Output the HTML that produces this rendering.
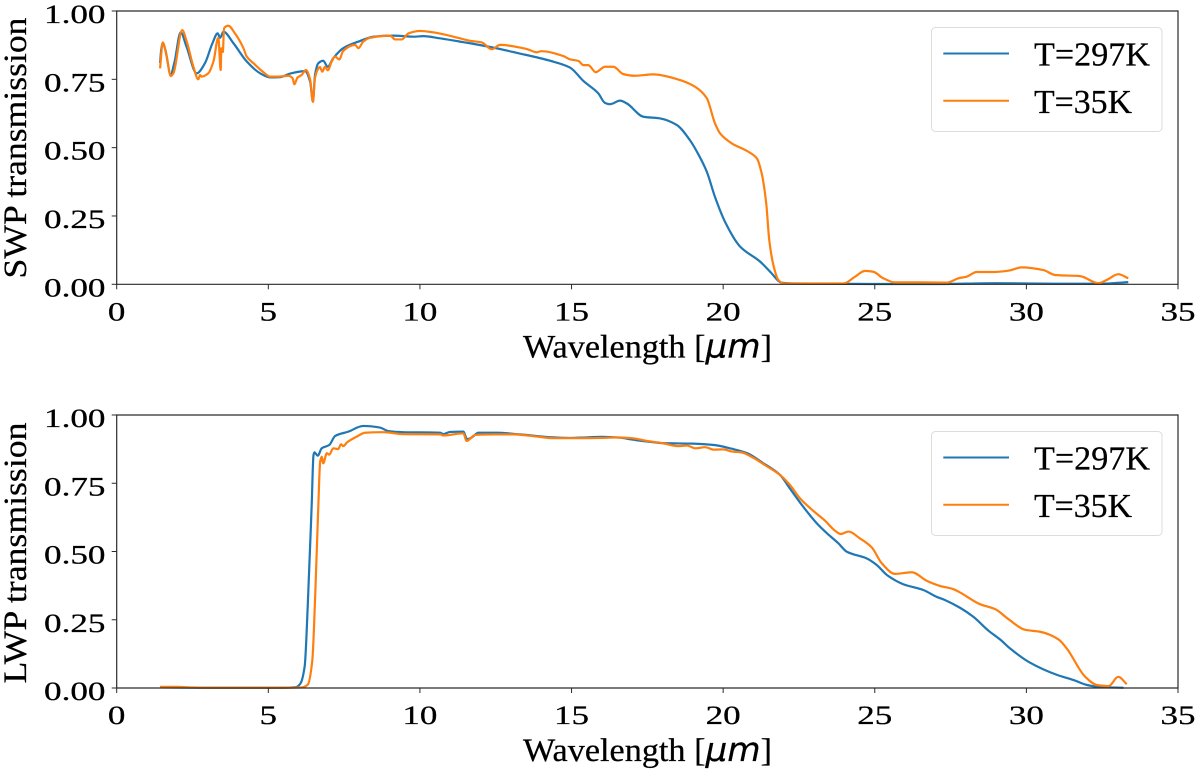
<!DOCTYPE html>
<html lang="en">
<head>
<meta charset="utf-8">
<title>SWP and LWP transmission</title>
<style>
html,body{margin:0;padding:0;background:#fff;}
svg{display:block;}
text{font-family:"Liberation Serif",serif;fill:#000;stroke:#000;stroke-width:0.25px;}
</style>
</head>
<body>
<svg id="chart" xmlns="http://www.w3.org/2000/svg" width="1200" height="772" viewBox="0 0 1200 772"></svg>
<script>
const xTicks = [0, 5, 10, 15, 20, 25, 30, 35];
const yTicks = [0, 0.25, 0.5, 0.75, 1];
const yTickLabels = ["0.00", "0.25", "0.50", "0.75", "1.00"];
const legendLabels = ["T=297K", "T=35K"];

const swpWave297 = [1.43,1.47,1.52,1.6,1.78,1.9,2.11,2.3,2.64,2.91,3.15,3.33,3.41,3.52,3.85,4.29,4.73,5.06,5.39,5.72,6.21,6.38,6.47,6.54,6.65,6.81,6.96,7.14,7.47,8.02,8.46,9.12,9.78,10.11,10.66,11.32,11.65,12.42,13.19,14.29,14.95,15.39,15.88,16.1,16.27,16.6,16.82,17.37,17.92,18.47,18.9,19.18,19.46,19.73,20.06,20.56,21.22,21.55,21.93,22.3,25,27,29,31,32.5,33.36];
const swp297 = [0.81,0.86,0.882,0.86,0.768,0.81,0.922,0.87,0.772,0.809,0.88,0.918,0.902,0.924,0.882,0.815,0.772,0.757,0.758,0.771,0.78,0.741,0.668,0.766,0.809,0.818,0.796,0.827,0.864,0.89,0.906,0.91,0.906,0.908,0.9,0.888,0.882,0.866,0.847,0.818,0.793,0.744,0.699,0.664,0.659,0.672,0.662,0.613,0.607,0.583,0.528,0.476,0.412,0.32,0.229,0.138,0.083,0.046,0.006,0.003,0.001,0.001,0.004,0.002,0.002,0.008];

const swpWave35 = [1.43,1.52,1.65,1.78,1.87,2.16,2.31,2.53,2.69,2.75,2.8,3.02,3.19,3.35,3.43,3.45,3.5,3.54,3.68,3.9,4.18,4.29,4.51,4.84,5.06,5.33,5.66,5.8,5.86,5.96,6.1,6.24,6.38,6.47,6.54,6.62,6.7,6.78,6.87,6.96,7.09,7.2,7.34,7.47,7.86,7.97,8.13,8.36,9.02,9.18,9.4,9.62,10,10.44,11.32,11.65,12.04,12.37,12.64,13.52,13.85,14.0,14.73,14.95,15.23,15.39,15.55,15.8,16.1,16.38,16.71,17.09,17.7,18.47,19.07,19.46,19.73,19.9,20.28,20.83,21.11,21.27,21.42,21.52,21.67,21.82,21.98,22.1,23.97,24.35,24.68,24.95,25.28,25.67,26.6,27.37,27.76,28.03,28.36,28.91,29.41,29.85,30.56,30.95,31.77,32.37,32.65,33.03,33.36];
const swp35 = [0.79,0.885,0.833,0.762,0.772,0.93,0.888,0.796,0.75,0.766,0.76,0.772,0.815,0.902,0.784,0.864,0.85,0.937,0.946,0.918,0.864,0.833,0.809,0.776,0.76,0.76,0.763,0.754,0.732,0.756,0.766,0.784,0.748,0.668,0.755,0.784,0.795,0.778,0.796,0.783,0.815,0.833,0.823,0.854,0.876,0.864,0.888,0.902,0.91,0.896,0.896,0.918,0.927,0.922,0.9,0.891,0.885,0.86,0.876,0.861,0.849,0.853,0.835,0.823,0.817,0.802,0.802,0.776,0.796,0.796,0.769,0.763,0.768,0.751,0.723,0.681,0.589,0.552,0.516,0.485,0.461,0.406,0.296,0.162,0.064,0.016,0.004,0.003,0.003,0.028,0.049,0.046,0.022,0.007,0.007,0.006,0.022,0.028,0.045,0.045,0.05,0.062,0.052,0.034,0.03,0.004,0.016,0.037,0.022];

const lwpWave297 = [1.43,3,5.5,5.9,6.05,6.2,6.3,6.43,6.49,6.52,6.63,6.76,7.01,7.2,7.64,8.13,8.68,8.96,9.45,10.67,10.77,10.99,11.43,11.56,11.7,11.93,12.53,13.3,14.4,14.95,15.28,16,16.6,17,17.5,18,19,19.7,20.3,20.8,21.3,21.88,22.2,22.64,23.09,23.42,23.8,24.08,24.73,25.06,25.4,25.94,26.6,27.04,27.32,27.81,28.25,28.75,29.13,29.46,30.07,31.01,31.56,32,32.44,33.2];
const lwp297 = [0.002,0.001,0.001,0.003,0.015,0.08,0.3,0.67,0.853,0.863,0.851,0.878,0.89,0.923,0.939,0.96,0.954,0.941,0.937,0.935,0.93,0.938,0.939,0.911,0.917,0.935,0.935,0.929,0.918,0.916,0.917,0.92,0.917,0.91,0.903,0.897,0.895,0.89,0.876,0.86,0.825,0.78,0.731,0.664,0.603,0.567,0.53,0.499,0.475,0.451,0.414,0.38,0.359,0.334,0.322,0.294,0.261,0.21,0.178,0.145,0.096,0.048,0.029,0.011,0.003,0.001];

const lwpWave35 = [1.43,2,2.5,3,5.5,6.1,6.3,6.45,6.55,6.65,6.71,6.76,6.81,6.93,7.01,7.14,7.3,7.4,7.47,7.6,7.92,8.19,8.79,9.45,10.67,10.77,11.43,11.54,11.82,12.5,13.08,13.85,14.4,15.28,16,16.5,17,17.5,18,18.5,18.8,19.1,19.4,19.7,20,20.3,20.6,21,21.4,21.88,22.2,22.53,22.97,23.36,23.69,23.88,24.13,24.51,24.9,25.23,25.67,26.22,26.71,27.15,27.59,27.81,28.47,28.97,29.41,29.96,30.45,31.06,31.33,31.94,32.32,32.71,33.03,33.31];
const lwp35 = [0.004,0.004,0.002,0.001,0.001,0.002,0.012,0.1,0.35,0.67,0.829,0.847,0.823,0.86,0.855,0.878,0.875,0.893,0.886,0.9,0.921,0.935,0.937,0.93,0.929,0.925,0.933,0.905,0.927,0.929,0.929,0.921,0.915,0.915,0.916,0.918,0.915,0.905,0.897,0.886,0.888,0.878,0.882,0.873,0.874,0.866,0.863,0.843,0.815,0.78,0.744,0.695,0.649,0.613,0.576,0.564,0.573,0.548,0.515,0.457,0.418,0.424,0.393,0.374,0.362,0.35,0.307,0.289,0.252,0.213,0.206,0.178,0.145,0.041,0.011,0.007,0.041,0.014];

const NS = "http://www.w3.org/2000/svg";
const svg = document.getElementById("chart");
const LEFT = 116.7, RIGHT = 1178, XMAX = 35;
const COLOR_297 = "#1f77b4", COLOR_35 = "#ff7f0e", AXIS = "#2a2a2a";
const FONT = 26;

function xScale(v) { return LEFT + (v / XMAX) * (RIGHT - LEFT); }

function labelWidth(s) {
  let w = 0;
  for (const c of s) w += (c === ".") ? 9 : 17.5;
  return w;
}

function addLine(parent, x1, y1, x2, y2, stroke, width) {
  const l = document.createElementNS(NS, "line");
  l.setAttribute("x1", x1);
  l.setAttribute("y1", y1);
  l.setAttribute("x2", x2);
  l.setAttribute("y2", y2);
  l.setAttribute("stroke", stroke);
  l.setAttribute("stroke-width", width);
  parent.appendChild(l);
  return l;
}

function addText(parent, str, x, y, anchor, len) {
  const t = document.createElementNS(NS, "text");
  t.setAttribute("x", x);
  t.setAttribute("y", y);
  t.setAttribute("font-size", FONT);
  t.setAttribute("text-anchor", anchor);
  t.setAttribute("textLength", len);
  t.setAttribute("lengthAdjust", "spacingAndGlyphs");
  t.textContent = str;
  parent.appendChild(t);
  return t;
}

function addGroup(parent) {
  const g = document.createElementNS(NS, "g");
  parent.appendChild(g);
  return g;
}

/* Monotone cubic path through the data points: smooth, no overshoot. */
function monotonePath(px, py) {
  const n = px.length;
  const d = [];
  for (let i = 0; i < n - 1; i++) d.push((py[i + 1] - py[i]) / (px[i + 1] - px[i]));
  const m = [d[0]];
  for (let i = 1; i < n - 1; i++) {
    if (d[i - 1] * d[i] <= 0) {
      m.push(0);
    } else {
      const h0 = px[i] - px[i - 1], h1 = px[i + 1] - px[i];
      const w0 = 2 * h1 + h0, w1 = h1 + 2 * h0;
      m.push((w0 + w1) / (w0 / d[i - 1] + w1 / d[i]));
    }
  }
  m.push(d[n - 2]);
  let out = "M" + px[0].toFixed(2) + " " + py[0].toFixed(2);
  for (let i = 0; i < n - 1; i++) {
    const h = (px[i + 1] - px[i]) / 3;
    out += "C" + (px[i] + h).toFixed(2) + " " + (py[i] + m[i] * h).toFixed(2) + " " +
      (px[i + 1] - h).toFixed(2) + " " + (py[i + 1] - m[i + 1] * h).toFixed(2) + " " +
      px[i + 1].toFixed(2) + " " + py[i + 1].toFixed(2);
  }
  return out;
}

function drawSeries(parent, wave, values, yScale, color) {
  const p = document.createElementNS(NS, "path");
  p.setAttribute("d", monotonePath(wave.map(xScale), values.map(yScale)));
  p.setAttribute("fill", "none");
  p.setAttribute("stroke", color);
  p.setAttribute("stroke-width", "2.2");
  p.setAttribute("stroke-linejoin", "round");
  parent.appendChild(p);
  return p;
}

function drawPanel(prefix, yLabel, top, bottom, wave297, v297, wave35, v35, legendTop, yLabelCenter) {
  const yScale = v => bottom - v * (bottom - top);
  const panel = addGroup(svg);
  
  

  const s297 = drawSeries(panel, wave297, v297, yScale, COLOR_297);
  
  
  const s35 = drawSeries(panel, wave35, v35, yScale, COLOR_35);
  
  

  const spines = addGroup(panel);
  
  
  addLine(spines, LEFT, top, RIGHT, top, AXIS, 1.2);
  addLine(spines, LEFT, bottom, RIGHT, bottom, AXIS, 1.2);
  addLine(spines, LEFT, top - 0.6, LEFT, bottom + 0.6, AXIS, 1.2);
  addLine(spines, RIGHT, top - 0.6, RIGHT, bottom + 0.6, AXIS, 1.2);

  const xAxis = addGroup(panel);
  
  
  xTicks.forEach(v => {
    addLine(xAxis, xScale(v), bottom, xScale(v), bottom + 5, AXIS, 1);
    const s = String(v);
    const label = addText(xAxis, s, xScale(v), bottom + 36, "middle", labelWidth(s));
    
    
  });

  const yAxis = addGroup(panel);
  
  
  yTicks.forEach((v, i) => {
    addLine(yAxis, LEFT - 5, yScale(v), LEFT, yScale(v), AXIS, 1);
    const s = yTickLabels[i];
    const label = addText(yAxis, s, 105.5, yScale(v) + 12, "end", labelWidth(s));
    
    
  });

  const xTitle = addText(panel, "", 647.5, bottom + 73, "middle", 249);
  
  
  xTitle.setAttribute("font-size", "33");
  const a = document.createElementNS(NS, "tspan");
  a.textContent = "Wavelength [";
  xTitle.appendChild(a);
  const b = document.createElementNS(NS, "tspan");
  b.setAttribute("font-style", "italic");
  b.setAttribute("style", 'font-family:"DejaVu Sans",sans-serif');
  b.textContent = "\u03BCm";
  xTitle.appendChild(b);
  const c = document.createElementNS(NS, "tspan");
  c.textContent = "]";
  xTitle.appendChild(c);

  const yTitle = addText(panel, yLabel, 0, 0, "middle", 261);
  yTitle.setAttribute("transform", "translate(26," + yLabelCenter + ") rotate(-90)");
  yTitle.setAttribute("font-size", "33");
  
  

  const legend = addGroup(panel);
  
  
  const box = document.createElementNS(NS, "rect");
  box.setAttribute("x", 931.5);
  box.setAttribute("y", legendTop);
  box.setAttribute("width", 230.5);
  box.setAttribute("height", 104);
  box.setAttribute("rx", 4);
  box.setAttribute("fill", "#fff");
  box.setAttribute("fill-opacity", "0.8");
  box.setAttribute("stroke", "#dcdcdc");
  box.setAttribute("stroke-width", "1");
  legend.appendChild(box);
  [COLOR_297, COLOR_35].forEach((color, i) => {
    const ly = legendTop + 26 + i * 47.3;
    const entry = addGroup(legend);
    
    
    addLine(entry, 943.3, ly, 1009, ly, color, 2);
    const t = addText(entry, legendLabels[i], 1034, ly + 12, "start", i === 0 ? 116 : 98);
    t.setAttribute("font-size", "34");
  });
}

drawPanel("swp", "SWP transmission", 11, 284.3, swpWave297, swp297, swpWave35, swp35, 27.5, 148);
drawPanel("lwp", "LWP transmission", 415, 688, lwpWave297, lwp297, lwpWave35, lwp35, 431.5, 553);
</script>
</body>
</html>
